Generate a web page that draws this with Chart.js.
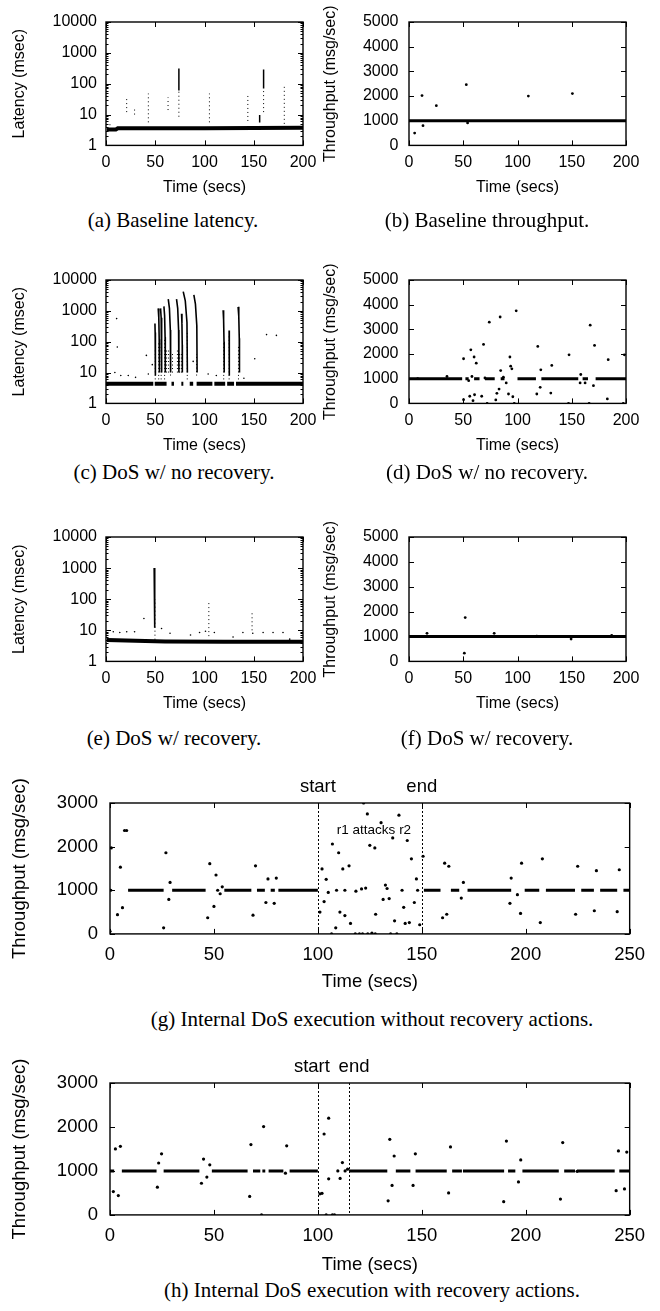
<!DOCTYPE html>
<html>
<head>
<meta charset="utf-8">
<script src="https://cdn.jsdelivr.net/npm/chart.js@4.4.0/dist/chart.umd.min.js"></script>
<style>
  body { margin: 0; background: #fff; width: 660px; height: 1311px; position: relative; overflow: hidden; }
  canvas { position: absolute; }
  .cap { position: absolute; font-family: "Liberation Serif", "Times New Roman", serif; font-size: 21px;
         line-height: 24px; color: #000; white-space: nowrap; transform: translateX(-50%); }
</style>
</head>
<body>
<script>
// ---- axes ----
const latTicks = [1, 10, 100, 1000, 10000];
const thrTicks = [0, 1000, 2000, 3000, 4000, 5000];
const thrTicksWide = [0, 1000, 2000, 3000];
const timeTicks = [0, 50, 100, 150, 200];
const timeTicksWide = [0, 50, 100, 150, 200, 250];

// ---- (a) baseline latency ----
const aBase = [[1, 3.3], [10, 3.3], [12, 3.6], [100, 3.6], [200, 3.7]];
const aSolid = [[74, 60, 310], [160, 70, 290], [156, 5.5, 9.6]];
const aDots = [[4, 4.5, 5.5], [21, 12, 33], [29, 10, 18], [43, 5.6, 48], [63, 14, 36], [74, 8.5, 60],
  [105, 5.6, 48], [144, 6.2, 40], [160, 12, 70], [181, 5, 80]];

// ---- (b) baseline throughput ----
const bRuns = [[0, 200]];
const bPts = [[5.2, 500], [12, 2020], [12.9, 800], [25.2, 1610], [52.8, 2460], [54, 910], [110, 2000], [150.6, 2100]];

// ---- (c) DoS latency, no recovery ----
const cLevel = 4.3;
const cRuns = [[0, 48], [49.5, 61.5], [66.5, 69], [76.5, 78.5], [85, 88.5], [92, 108], [110, 121], [123, 130], [132, 200]];
const cArcs = [
  [[49.7, 390], [49.9, 200], [50.1, 40], [50.2, 8]],
  [[53, 1200], [53.6, 600], [54, 120], [54.2, 10]],
  [[55.4, 1200], [56, 600], [56.4, 120], [56.6, 10]],
  [[58.8, 1400], [59.5, 700], [60, 140], [60.2, 10]],
  [[63.2, 2400], [64.4, 1200], [65.3, 240], [65.6, 10]],
  [[71.6, 2400], [72.8, 1200], [73.7, 240], [74, 10]],
  [[76.7, 800], [77.1, 400], [77.4, 80], [77.5, 10]],
  [[78.4, 4200], [80.5, 2100], [82.2, 420], [82.6, 10]],
  [[89.2, 3300], [90.8, 1650], [92.2, 330], [92.5, 10]],
  [[118.9, 1050], [119.4, 520], [119.8, 100], [120, 10]],
  [[125, 230], [125.1, 115], [125.2, 25], [125.25, 8]],
  [[134.1, 1350], [134.8, 670], [135.3, 130], [135.5, 10]]
];
const cDots = [[50, 6, 60], [53.5, 6, 100], [56, 6, 100], [59.5, 6, 120], [61.5, 10, 60], [63.5, 10, 60],
  [65.5, 8, 60], [67.5, 10, 45], [72.5, 10, 60], [74.5, 10, 45], [76.5, 10, 45], [82.5, 6, 200],
  [92, 8, 40], [119.5, 6, 90], [125, 6, 150], [134.5, 6, 80]];
const cPts = [[10.8, 560], [11.5, 67], [9, 10], [15, 8], [22.6, 8], [30, 7], [41, 36], [43, 9], [47, 18],
  [88.5, 23], [103.7, 9], [112, 8], [151, 28], [163, 170], [173, 160], [140, 6.5]];

// ---- (d) DoS throughput, no recovery ----
const dRuns = [[0, 49], [52, 55], [60, 65], [70, 79], [84.5, 88], [100, 117], [122, 156], [160, 165], [172, 200]];
const dPts = [[8, 1000], [35, 1090], [50.3, 150], [50.3, 1810], [55, 920], [56, 290], [57, 2170], [58, 1090],
  [59, 110], [60, 1880], [60.4, 350], [62, 1630], [67, 290], [68.7, 2390], [70, 1030], [72, 0], [74, 3290],
  [80, 140], [81, 410], [83, 580], [84, 3500], [84.5, 1330], [87, 1060], [89.6, 830], [91.7, 380], [93, 1880],
  [93.7, 1510], [94.8, 1400], [95.7, 270], [97, 0], [98.8, 3750], [117.8, 380], [118.7, 2310], [120.9, 650],
  [121.5, 1360], [130.7, 420], [131.6, 1540], [147, 0], [147.5, 1970], [157.7, 830], [158.3, 1170],
  [162.3, 830], [166, 0], [167, 3170], [170, 720], [171, 2350], [182.8, 180], [183.6, 1770], [197.5, 0], [198.5, 1970]];

// ---- (e) DoS latency, with recovery ----
const eBase = [[1, 4.9], [30, 4.6], [60, 4.4], [120, 4.3], [200, 4.3]];
const eArcs = [[[48.9, 1000], [49.2, 500], [49.5, 100], [49.7, 12]]];
const eDots = [[49.7, 5, 100], [104.4, 6.5, 83], [148.3, 10, 36]];
const ePts = [[7.4, 9], [14, 8.5], [21, 9], [29, 9], [38.5, 24], [56.4, 11.4], [65, 8], [85.8, 7.1], [95, 8.5],
  [101, 9.3], [110, 8.5], [129, 6.1], [139, 8.5], [149, 8], [159.5, 8.5], [169.6, 8.5], [179.7, 8.5], [186.5, 5.2]];

// ---- (f) DoS throughput, with recovery ----
const fRuns = [[0, 200]];
const fPts = [[16.6, 1130], [51.8, 1760], [51, 330], [78.5, 1130], [117.8, 1010], [149.4, 900], [186.8, 1040]];

// ---- (g) internal DoS, no recovery ----
const gRuns = [[8.7, 25.8], [29.9, 46], [55, 68], [70.7, 74.5], [77.3, 79.3], [81, 100], [151, 159], [164, 168],
  [172, 193], [199.5, 206.5], [209.7, 223.7], [226.7, 232.8], [235.8, 244], [247, 250]];
const gPts = [[0.6, 1970], [5, 1530], [7, 2370], [8, 2370], [26.9, 1860], [28.9, 1180], [48, 1610], [51, 1350],
  [54, 1080], [70, 1560], [76, 1260], [80, 1280], [102, 1490], [104, 1250], [107, 2060], [110, 1860], [112, 1490],
  [115, 1560], [122, 3000], [123.8, 2750], [125, 2030], [127.4, 1970], [130.4, 2550], [136, 2200], [139, 2720],
  [143, 2140], [145, 1720], [147.4, 1260], [150.6, 1780], [161, 1620], [163, 1550], [170, 1180], [193, 1280],
  [198, 1620], [208, 1720], [225, 1550], [234, 1450], [245, 1470],
  [0, 60], [0.4, 1000], [3.6, 440], [6, 600], [25.8, 140], [28.3, 790], [47, 370], [50, 630], [51.8, 1000],
  [53, 920], [68.8, 430], [75, 720], [79, 700], [101, 500], [103, 740], [105, 950], [106.6, 0], [108.6, 140],
  [109, 1000], [110.6, 500], [113, 420], [113, 1000], [115.7, 240], [118.3, 980], [118, 0], [120, 0], [121.5, 0],
  [121, 1030], [123, 1050], [124, 0], [126, 20], [127.6, 0], [127.8, 450], [131.4, 790], [132.5, 1120],
  [133.3, 1040], [134.3, 810], [135, 0], [136.9, 300], [138, 0], [140.5, 1000], [141.3, 610], [142, 240],
  [144, 260], [146.4, 720], [148, 1000], [149, 210], [160, 370], [162, 450], [169, 820], [192.4, 700],
  [196, 900], [197.5, 470], [207, 260], [224, 450], [233, 530], [244, 510]];
const gMarks = [100, 150];

// ---- (h) internal DoS, with recovery ----
const hRuns = [[0, 2], [5.7, 22.4], [25.8, 43], [49, 66.2], [68.8, 72.3], [73.3, 74.7], [76.3, 83.4], [86.4, 100],
  [115, 133.4], [137.5, 144.5], [147, 162], [164.6, 169.3], [169.8, 189.6], [191.5, 195], [198.4, 215.9],
  [218.5, 223.7], [224.7, 242.8], [245, 250]];
const hPts = [[1.6, 530], [2.6, 1500], [4, 440], [5, 1560], [22.8, 630], [23.4, 1180], [24.8, 1390], [44, 720],
  [45, 1270], [46.6, 860], [48, 1140], [67.2, 420], [67.8, 1600], [72.9, 0], [73.9, 2010], [84.4, 950], [85, 1570],
  [101, 480], [102, 490], [103, 1840], [104, 0], [105.2, 2200], [105.2, 820], [107, 0], [108, 0], [109.6, 1000],
  [110.7, 830], [111.8, 1190], [113.1, 1000], [114.3, 1040], [133.8, 320], [134.6, 1720], [135.7, 670],
  [136.7, 1340], [145.8, 670], [146.9, 1390], [162.9, 500], [163.8, 1545], [189.4, 300], [190.7, 1680],
  [196.5, 750], [197.6, 1250], [216.7, 360], [217.8, 1645], [224.7, 990], [243.5, 550], [244.6, 1455],
  [247.5, 590], [248.6, 1430]];
const hMarks = [100, 115];

// ---- helpers ----
const pts = p => p.map(([x, y]) => ({ x, y }));
const runs = (r, v) => r.flatMap(([a, b]) => [{ x: a, y: v }, { x: b, y: v }, { x: b, y: null }]);
const cols = c => c.flatMap(([t, lo, hi]) => [{ x: t, y: lo }, { x: t, y: hi }, { x: t, y: null }]);
const arcs = list => list.flatMap(a => [...pts(a), { x: a[a.length - 1][0], y: null }]);
const line = (data, w, dash) => ({ data, showLine: true, borderColor: '#000', borderWidth: w,
  borderDash: dash || [], pointRadius: 0, spanGaps: false });
const dots = (data, r) => ({ data, showLine: false, pointRadius: r || 1.4, backgroundColor: '#000', borderWidth: 0 });

Chart.defaults.font.family = '"Liberation Sans", Arial, Helvetica, sans-serif';
Chart.defaults.color = '#000';
Chart.defaults.animation = false;

const frame = {
  id: 'frame',
  afterDraw(chart, args, o) {
    const { ctx, chartArea: a } = chart;
    const x = chart.scales.x, y = chart.scales.y;
    ctx.save();
    ctx.strokeStyle = '#000';
    ctx.lineWidth = 1;
    ctx.beginPath();
    x.ticks.forEach(t => {
      const p = Math.round(x.getPixelForValue(t.value)) + 0.5;
      ctx.moveTo(p, a.bottom); ctx.lineTo(p, a.bottom - 5);
      ctx.moveTo(p, a.top); ctx.lineTo(p, a.top + 5);
    });
    y.ticks.forEach(t => {
      const p = Math.round(y.getPixelForValue(t.value)) + 0.5;
      ctx.moveTo(a.left, p); ctx.lineTo(a.left + 5, p);
      ctx.moveTo(a.right, p); ctx.lineTo(a.right - 5, p);
    });
    if (o.log) {
      latTicks.slice(0, -1).forEach(d => [2, 3, 4, 5, 6, 7, 8, 9].forEach(m => {
        const p = Math.round(y.getPixelForValue(d * m)) + 0.5;
        ctx.moveTo(a.left, p); ctx.lineTo(a.left + 2.5, p);
        ctx.moveTo(a.right, p); ctx.lineTo(a.right - 2.5, p);
      }));
    }
    ctx.stroke();
    ctx.lineWidth = 1.4;
    ctx.strokeRect(a.left, a.top, a.right - a.left, a.bottom - a.top);
    if (o.marks) {
      ctx.lineWidth = 1;
      ctx.setLineDash([2, 2]);
      ctx.beginPath();
      o.marks.forEach(m => {
        const p = Math.round(x.getPixelForValue(m)) + 0.5;
        ctx.moveTo(p, a.top); ctx.lineTo(p, a.bottom);
      });
      ctx.stroke();
      ctx.setLineDash([]);
    }
    (o.labels || []).forEach(l => {
      ctx.font = l.size + 'px "Liberation Sans", Arial, sans-serif';
      ctx.fillStyle = '#000';
      ctx.textAlign = 'center';
      ctx.textBaseline = 'middle';
      const py = l.y == null ? a.top - 16 : y.getPixelForValue(l.y);
      ctx.fillText(l.text, x.getPixelForValue(l.x) + (l.dx || 0), py);
    });
    ctx.restore();
  }
};

function panel(o) {
  const lh = o.fs * 1.2;
  const left = Math.round(o.titleX - lh / 2);
  const yw = o.box[0] - left;
  const pt = o.pt, pr = 22;
  const xh = o.xTitleOff + lh / 2;
  const cv = document.createElement('canvas');
  cv.width = Math.round(o.box[2] - o.box[0] + yw + pr);
  cv.height = Math.round(o.box[3] - o.box[1] + pt + xh);
  cv.style.left = left + 'px';
  cv.style.top = (o.box[1] - pt) + 'px';
  document.body.appendChild(cv);
  const font = { size: o.fs };
  new Chart(cv, {
    type: 'scatter',
    data: { datasets: o.datasets },
    options: {
      responsive: false,
      events: [],
      layout: { padding: { top: pt, right: pr, left: 0, bottom: 0 } },
      plugins: { legend: { display: false }, tooltip: { enabled: false }, frame: o.frame || {} },
      scales: {
        x: {
          type: 'linear', min: 0, max: o.xTicks[o.xTicks.length - 1],
          afterBuildTicks: s => { s.ticks = o.xTicks.map(v => ({ value: v })); },
          afterFit: s => { s.height = xh; },
          grid: { display: false, drawTicks: false }, border: { display: false },
          ticks: { font, padding: o.xTickOff - lh / 2, maxRotation: 0, autoSkip: false, callback: v => String(v) },
          title: { display: true, text: 'Time (secs)', font, padding: 0 }
        },
        y: {
          type: o.log ? 'logarithmic' : 'linear', min: o.yTicks[0], max: o.yTicks[o.yTicks.length - 1],
          afterBuildTicks: s => { s.ticks = o.yTicks.map(v => ({ value: v })); },
          afterFit: s => { s.width = yw; },
          grid: { display: false, drawTicks: false }, border: { display: false },
          ticks: { font, padding: o.yTickPad, autoSkip: false, callback: v => String(v) },
          title: { display: true, text: o.yTitle, font, padding: 0 }
        }
      }
    },
    plugins: [frame]
  });
}

function caption(text, cx, cy) {
  const d = document.createElement('div');
  d.className = 'cap';
  d.textContent = text;
  d.style.left = cx + 'px';
  d.style.top = (cy - 12) + 'px';
  document.body.appendChild(d);
}

const small = { fs: 16, pt: 22, xTickOff: 17, xTitleOff: 42, xTicks: timeTicks };
const latL = { ...small, titleX: 20, yTickPad: 9, log: true, yTicks: latTicks, yTitle: 'Latency (msec)', frame: { log: true } };
const thrR = { ...small, titleX: 331, yTickPad: 10.5, yTicks: thrTicks, yTitle: 'Throughput (msg/sec)' };
const wide = { fs: 18.5, pt: 40, xTickOff: 21, titleX: 20, yTickPad: 12, xTicks: timeTicksWide,
  yTicks: thrTicksWide, yTitle: 'Throughput (msg/sec)' };

panel({ ...latL, box: [106, 22, 303, 145], datasets: [
  line(pts(aBase), 4), line(cols(aDots), 1, [1, 3]), line(cols(aSolid), 1.5)] });
panel({ ...thrR, box: [409, 22, 626, 145], datasets: [line(runs(bRuns, 1000), 3), dots(pts(bPts))] });

panel({ ...latL, box: [106, 280, 303, 403], datasets: [
  line(runs(cRuns, cLevel), 4), line(cols(cDots), 1, [1, 2.5]), line(arcs(cArcs), 1.6), dots(pts(cPts), 0.8)] });
panel({ ...thrR, box: [409, 280, 626, 403], datasets: [line(runs(dRuns, 1000), 3), dots(pts(dPts))] });

panel({ ...latL, box: [106, 537, 303, 661], datasets: [
  line(pts(eBase), 4), line(cols(eDots), 1, [1, 3]), line(arcs(eArcs), 1.6), dots(pts(ePts), 0.8)] });
panel({ ...thrR, box: [409, 537, 626, 661], datasets: [line(runs(fRuns, 1000), 3), dots(pts(fPts))] });

panel({ ...wide, box: [110, 803, 633, 934], xTitleOff: 48, datasets: [line(runs(gRuns, 1000), 3), dots(pts(gPts), 1.6)],
  frame: { marks: gMarks, labels: [{ x: 100, text: 'start', size: 18.5 }, { x: 150, text: 'end', size: 18.5 },
    { x: 127, y: 2380, text: 'r1 attacks r2', size: 13.5 }] } });
panel({ ...wide, box: [110, 1083, 633, 1215], xTitleOff: 50, datasets: [line(runs(hRuns, 1000), 3), dots(pts(hPts), 1.6)],
  frame: { marks: hMarks, labels: [{ x: 100, text: 'start', size: 18.5, dx: -6 }, { x: 115, text: 'end', size: 18.5, dx: 5 }] } });

caption('(a)  Baseline latency.', 173, 220);
caption('(b)  Baseline throughput.', 487, 220);
caption('(c)  DoS w/ no recovery.', 174, 472);
caption('(d)  DoS w/ no recovery.', 487, 472);
caption('(e)  DoS w/ recovery.', 174, 738);
caption('(f)  DoS w/ recovery.', 487, 738);
caption('(g)  Internal DoS execution without recovery actions.', 372, 1019);
caption('(h)  Internal DoS execution with recovery actions.', 372, 1290);
</script>
</body>
</html>
